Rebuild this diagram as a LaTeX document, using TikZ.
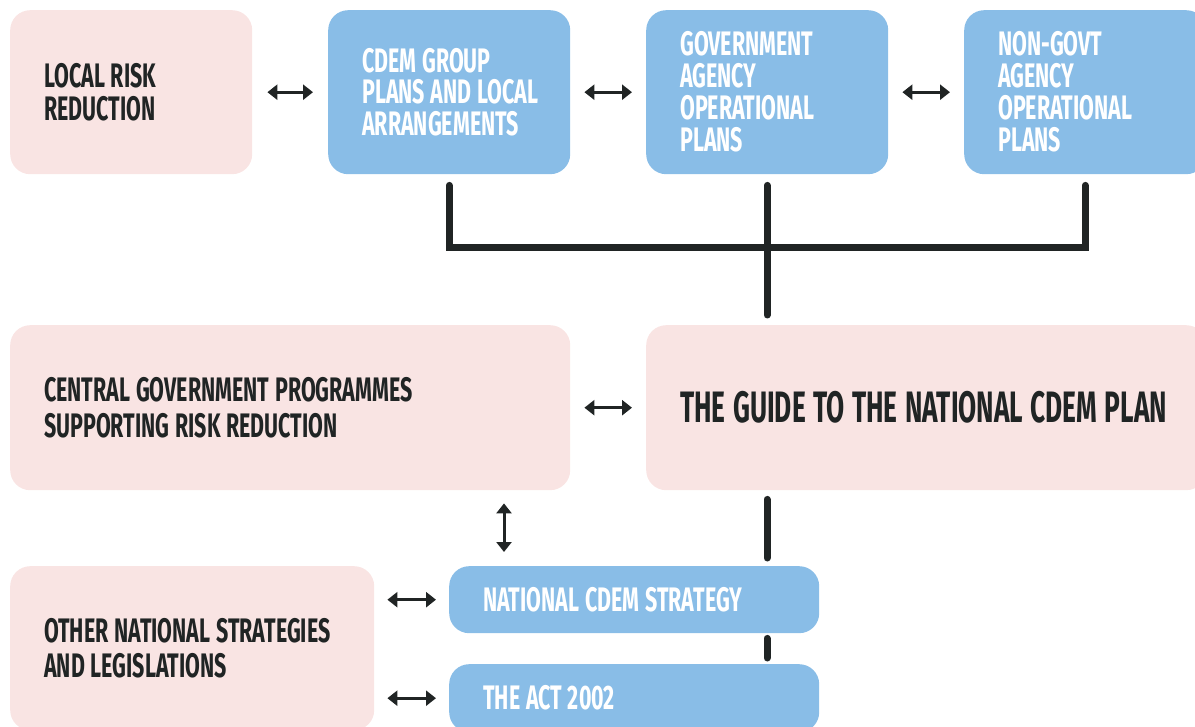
\documentclass[tikz,border=0pt]{standalone}
\usepackage{fontspec}
\usetikzlibrary{arrows.meta}
\newfontfamily\bebas[FakeStretch=0.63]{Fira Sans}
\newfontfamily\bebasg[FakeStretch=0.597]{Fira Sans}
\newcommand{\bset}[2]{\bebas\bfseries\fontsize{#1}{#2}\selectfont}
\newcommand{\tline}[1]{\mbox{\spaceskip=0.17em\xspaceskip=0.17em\relax #1}}
\definecolor{pinkbox}{HTML}{F9E4E3}
\definecolor{bluebox}{HTML}{89BDE7}
\definecolor{ink}{HTML}{202424}
\tikzset{
  box/.style={anchor=north west, rounded corners=20pt, inner xsep=34pt, inner ysep=0pt,
    align=left, font=\bset{34}{33}},
  pinkb/.style={box, fill=pinkbox, text=ink},
  blueb/.style={box, fill=bluebox, text=white},
  dbl/.style={draw=ink, line width=3pt, {Triangle[length=10pt,width=15pt]}-{Triangle[length=10pt,width=15pt]}},
  tree/.style={draw=ink, line width=7pt, line cap=round, line join=miter},
}
\begin{document}
\begin{tikzpicture}[x=1pt,y=-1pt]
\useasboundingbox (0,0) rectangle (1195,727);
\begin{scope}
\clip (0,0) rectangle (1195,727);
\node[pinkb, text width=174pt, minimum height=164pt] (local) at (10,10) {\tline{LOCAL RISK}\\\tline{REDUCTION}};
\node[blueb, text width=174pt, minimum height=164pt, font=\bset{34}{31.5}] (cdem) at (328,10) {\tline{CDEM GROUP}\\\tline{PLANS AND LOCAL}\\\tline{ARRANGEMENTS}};
\node[blueb, text width=174pt, minimum height=164pt, font=\bset{34}{32}] (govt) at (646,10) {\tline{GOVERNMENT}\\\tline{AGENCY}\\\tline{OPERATIONAL}\\\tline{PLANS}};
\node[blueb, text width=174pt, minimum height=164pt, font=\bset{34}{32}] (ngo) at (964,10) {\tline{NON-GOVT}\\\tline{AGENCY}\\\tline{OPERATIONAL}\\\tline{PLANS}};
\node[pinkb, text width=492pt, minimum height=165pt, font=\bset{34}{36}] (central) at (10,325) {\tline{CENTRAL GOVERNMENT PROGRAMMES}\\\tline{SUPPORTING RISK REDUCTION}};
\node[pinkb, text width=492pt, minimum height=165pt, font=\bebasg\bfseries\fontsize{44}{44}\selectfont] (guide) at (646,325) {\tline{THE GUIDE TO THE NATIONAL CDEM PLAN}};
\node[blueb, text width=302pt, minimum height=67pt] (strategy) at (449,566) {\tline{NATIONAL CDEM STRATEGY}};
\node[blueb, text width=302pt, minimum height=68pt] (act) at (449,664) {\tline{THE ACT 2002}};
\node[pinkb, text width=296pt, minimum height=164pt, font=\bset{34}{35}] (other) at (10,566) {\tline{OTHER NATIONAL STRATEGIES}\\\tline{AND LEGISLATIONS}};
\end{scope}
% horizontal double arrows
\draw[dbl, shorten <=15pt, shorten >=15pt] (local.east) -- (cdem.west);
\draw[dbl, shorten <=14pt, shorten >=14pt] (cdem.east) -- (govt.west);
\draw[dbl, shorten <=14pt, shorten >=14pt] (govt.east) -- (ngo.west);
\draw[dbl, shorten <=14pt, shorten >=14pt] (central.east) -- (guide.west);
\coordinate (sx) at (504,0);
\draw[dbl, shorten <=13pt, shorten >=14pt] (central.south -| sx) -- (strategy.north -| sx);
\draw[dbl, shorten <=13pt, shorten >=13pt] (other.east |- strategy.west) -- (strategy.west);
\draw[dbl, shorten <=13pt, shorten >=13pt] (other.east |- act.west) -- (act.west);
% tree
\coordinate (bar) at (0,248);
\draw[tree] ([yshift=-11pt]cdem.south) -- (cdem.south |- bar) -- (ngo.south |- bar) -- ([yshift=-11pt]ngo.south);
\draw[tree] ([yshift=-11pt]govt.south) -- ([yshift=10pt]guide.north -| govt.south);
\coordinate (lx) at (767,0);
\draw[tree] ([yshift=-9pt]guide.south -| lx) -- ([yshift=8pt]strategy.north -| lx);
\draw[tree] ([yshift=-5pt]strategy.south -| lx) -- ([yshift=6pt]act.north -| lx);
\end{tikzpicture}
\end{document}
